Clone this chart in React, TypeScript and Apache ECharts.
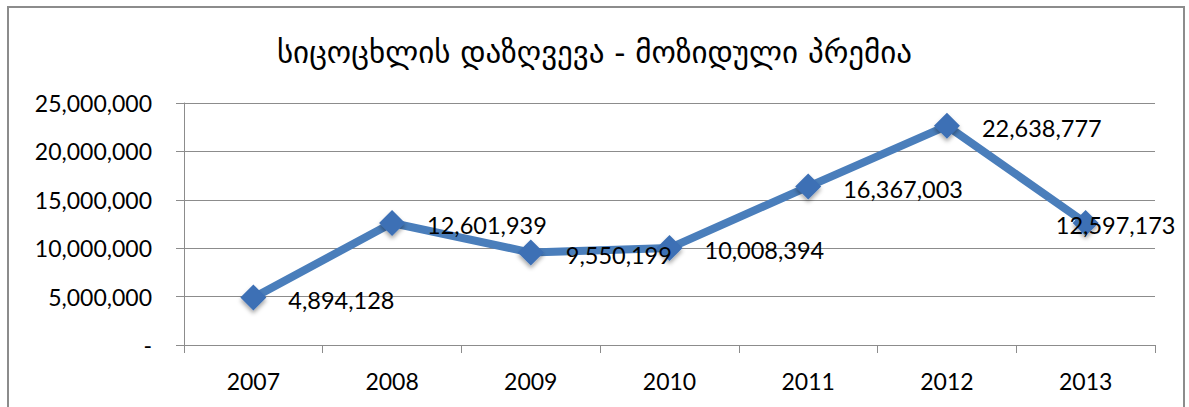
import React, { useEffect, useRef } from "react";
import * as echarts from "echarts";

const titleText = "სიცოცხლის დაზღვევა - მოზიდული პრემია";
const years = ["2007", "2008", "2009", "2010", "2011", "2012", "2013"];
const premiums = [4894128, 12601939, 9550199, 10008394, 16367003, 22638777, 12597173];
const yTicks = { min: 0, max: 25000000, interval: 5000000 };

const fmt = (v: number) => (v === 0 ? "-" : v.toLocaleString("en-US"));

export default function App() {
  const ref = useRef<HTMLDivElement>(null);
  useEffect(() => {
    if (!ref.current) return;
    const chart = echarts.init(ref.current, undefined, { renderer: "svg" });
    const font = "Lato, 'Open Sans', sans-serif";
    const gray = "#8c8c8c";
    chart.setOption({
      animation: false,
      backgroundColor: "#ffffff",
      title: {
        text: titleText,
        left: "center",
        top: 31,
        textStyle: { fontFamily: "'DejaVu Sans', sans-serif", fontSize: 31, fontWeight: "normal", color: "#000" },
      },
      graphic: [
        {
          type: "rect",
          shape: { x: 8, y: 7, width: 1176, height: 420 },
          style: { fill: "none", stroke: gray, lineWidth: 2 },
          silent: true,
        },
      ],
      grid: { left: 184, right: 34, top: 103, bottom: 62 },
      xAxis: {
        type: "category",
        data: years,
        boundaryGap: true,
        axisLine: { lineStyle: { color: gray, width: 1 } },
        axisTick: { show: true, length: 8, alignWithLabel: false, lineStyle: { color: gray } },
        axisLabel: { fontFamily: font, fontSize: 23, color: "#000", margin: 24 },
      },
      yAxis: {
        type: "value",
        min: yTicks.min,
        max: yTicks.max,
        interval: yTicks.interval,
        axisLine: { show: true, lineStyle: { color: gray, width: 1 } },
        axisTick: { show: true, length: 8, lineStyle: { color: gray } },
        splitLine: { show: true, lineStyle: { color: gray, width: 1 } },
        axisLabel: { fontFamily: font, fontSize: 23, color: "#000", margin: 32, formatter: (v: number) => fmt(v) },
      },
      series: [
        {
          type: "line",
          data: premiums.map((v, i) =>
            i === premiums.length - 1
              ? { value: v, label: { position: "inside", offset: [30, 2] } }
              : v
          ),
          lineStyle: { color: "#4a7ebb", width: 8 },
          symbol: "diamond",
          symbolSize: 26,
          itemStyle: {
            color: "#3c6fb5",
            shadowBlur: 4,
            shadowColor: "rgba(0,0,0,0.35)",
            shadowOffsetY: 3,
          },
          label: {
            show: true,
            position: "right",
            distance: 22,
            offset: [0, 2],
            fontFamily: font,
            fontSize: 23.5,
            color: "#000",
            formatter: (p: any) => fmt(p.value),
          },
        },
      ],
    });
    return () => chart.dispose();
  }, []);
  return <div ref={ref} style={{ position: "fixed", left: 0, top: 0, width: 1189, height: 407 }} />;
}
